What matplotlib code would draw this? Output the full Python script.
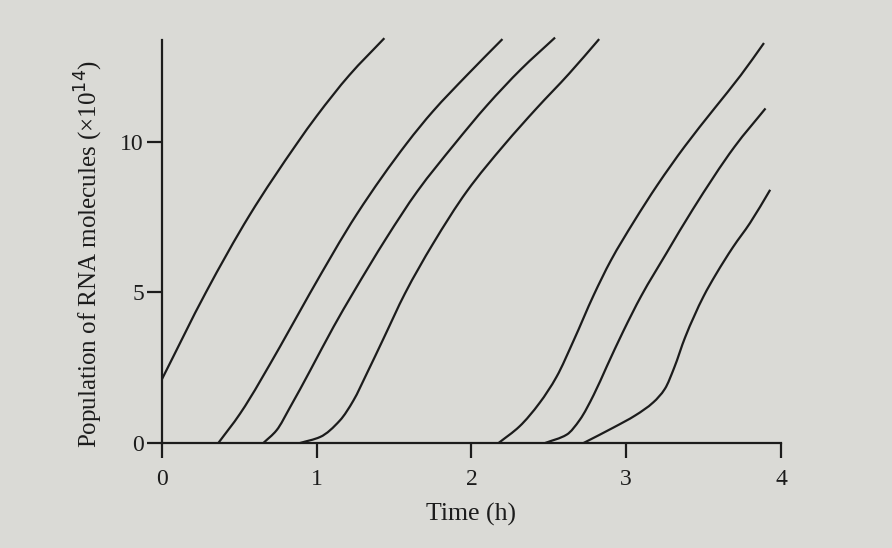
import matplotlib
matplotlib.use("Agg")
import matplotlib.pyplot as plt
from matplotlib.path import Path
from matplotlib.patches import PathPatch

# Data (time in h, population in units of 1e14)
c1_t = [0.00, 0.284, 0.565, 0.874, 1.00, 1.21, 1.437]
c1_y = [2.12, 5.0, 7.55, 9.95, 10.85, 12.2, 13.43]

c2_t = [0.364, 0.504, 0.763, 0.954, 1.26, 1.583, 1.75, 1.97, 2.20]
c2_y = [0.0, 0.97, 3.2, 4.95, 7.6, 9.95, 11.0, 12.2, 13.4]

c3_t = [0.655, 0.74, 0.828, 0.957, 1.108, 1.235, 1.45, 1.65, 1.891, 2.10, 2.32, 2.54]
c3_y = [0.0, 0.42, 1.19, 2.4, 3.85, 4.98, 6.8, 8.35, 9.92, 11.2, 12.4, 13.45]

c4_t = [0.892, 1.022, 1.15, 1.237, 1.323, 1.43, 1.57, 1.75, 1.97, 2.213, 2.42, 2.63, 2.825]
c4_y = [0.0, 0.2, 0.75, 1.41, 2.3, 3.45, 4.96, 6.6, 8.35, 9.9, 11.1, 12.25, 13.4]

c5_t = [2.175, 2.31, 2.44, 2.55, 2.66, 2.789, 2.90, 3.05, 3.20, 3.378, 3.57, 3.74, 3.89]
c5_y = [0.0, 0.55, 1.33, 2.2, 3.4, 4.9, 6.05, 7.35, 8.55, 9.84, 11.1, 12.2, 13.27]

c6_t = [2.476, 2.616, 2.70, 2.79, 2.875, 2.98, 3.097, 3.26, 3.43, 3.70, 3.90]
c6_y = [0.0, 0.28, 0.77, 1.6, 2.55, 3.7, 4.88, 6.3, 7.75, 9.83, 11.1]

c7_t = [2.724, 2.92, 3.06, 3.175, 3.25, 3.31, 3.38, 3.499, 3.58, 3.69, 3.80, 3.93]
c7_y = [0.0, 0.52, 0.92, 1.35, 1.8, 2.5, 3.5, 4.86, 5.6, 6.5, 7.3, 8.4]

x_ticks = [0, 1, 2, 3, 4]
y_ticks = [0, 5, 10]

BG = "#dadad6"
INK = "#1c1c1c"

plt.rcParams['font.family'] = ['Liberation Serif', 'DejaVu Serif']


def smooth_path(t, y):
    """Monotone (Fritsch-Carlson) cubic through the read points, as Bezier segments."""
    n = len(t)
    h = [t[i + 1] - t[i] for i in range(n - 1)]
    d = [(y[i + 1] - y[i]) / h[i] for i in range(n - 1)]
    m = [0.0] * n
    m[0] = d[0]
    m[-1] = d[-1]
    for i in range(1, n - 1):
        if d[i - 1] * d[i] <= 0:
            m[i] = 0.0
        else:
            w1 = 2 * h[i] + h[i - 1]
            w2 = h[i] + 2 * h[i - 1]
            m[i] = (w1 + w2) / (w1 / d[i - 1] + w2 / d[i])
    verts = [(t[0], y[0])]
    codes = [Path.MOVETO]
    for i in range(n - 1):
        c1 = (t[i] + h[i] / 3.0, y[i] + m[i] * h[i] / 3.0)
        c2 = (t[i + 1] - h[i] / 3.0, y[i + 1] - m[i + 1] * h[i] / 3.0)
        verts += [c1, c2, (t[i + 1], y[i + 1])]
        codes += [Path.CURVE4, Path.CURVE4, Path.CURVE4]
    return Path(verts, codes)


fig = plt.figure(figsize=(8.92, 5.48), dpi=100, facecolor=BG)
ax = fig.add_axes([162/892, 1-443/548, (781-162)/892, (443-40)/548])
ax.set_facecolor(BG)

for t, y in [(c1_t, c1_y), (c2_t, c2_y), (c3_t, c3_y), (c4_t, c4_y),
             (c5_t, c5_y), (c6_t, c6_y), (c7_t, c7_y)]:
    patch = PathPatch(smooth_path(t, y), facecolor='none', edgecolor=INK,
                      lw=1.6, clip_on=False, capstyle='butt')
    ax.add_patch(patch)

ax.set_xlim(0, 4)
ax.set_ylim(0, 13.37)
for s in ['top', 'right']:
    ax.spines[s].set_visible(False)
for s in ['left', 'bottom']:
    ax.spines[s].set_color(INK)
    ax.spines[s].set_linewidth(1.6)

ax.set_xticks(x_ticks)
ax.set_yticks(y_ticks)
ax.tick_params(axis='both', direction='out', length=11, width=1.6, color=INK,
               labelsize=17, labelcolor=INK)
ax.tick_params(axis='x', pad=8)
ax.tick_params(axis='y', pad=2)

ax.set_xlabel("Time (h)", fontsize=18.5, color=INK, labelpad=9)
ax.set_ylabel("Population of RNA molecules (×10$^{14}$)", fontsize=18, color=INK)
ax.yaxis.set_label_coords(-0.092, 0.47)

fig.savefig("out.png", dpi=100, facecolor=BG)
